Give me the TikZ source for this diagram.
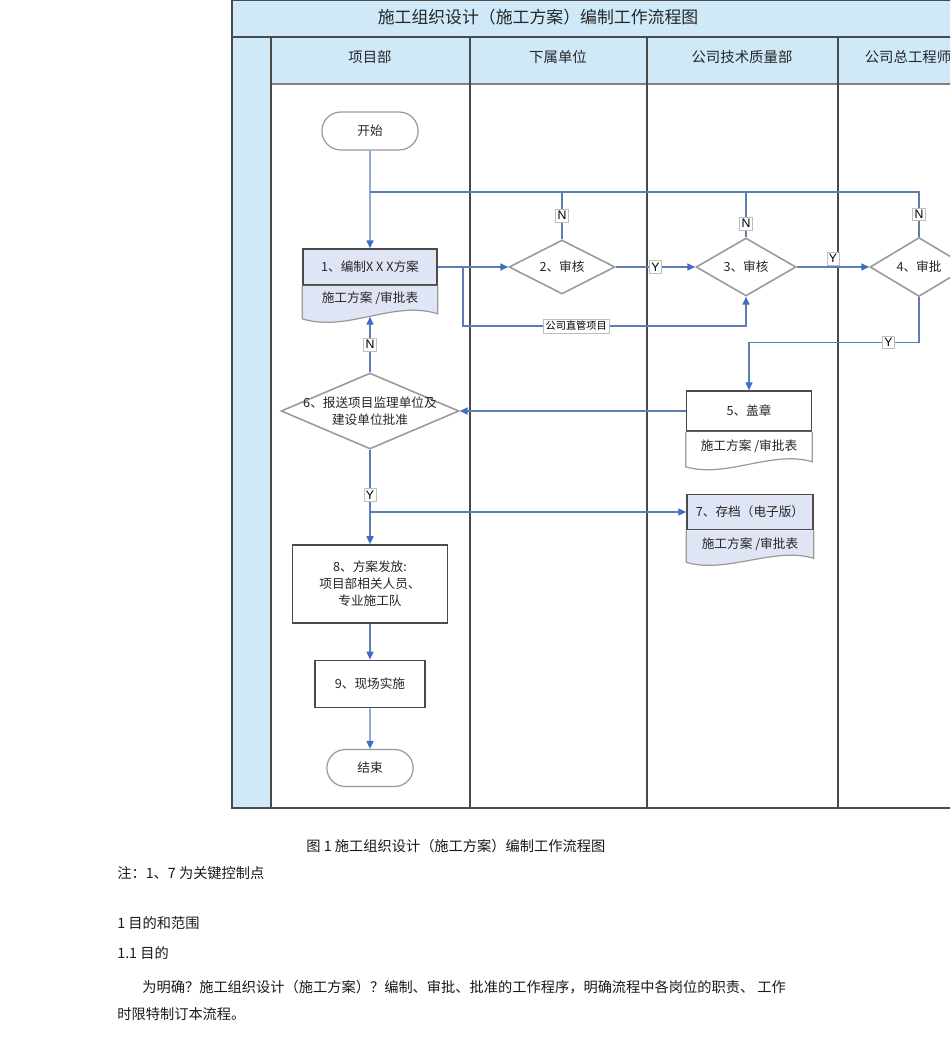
\documentclass[tikz,border=0pt]{standalone}
\usepackage{fontspec}
\setmainfont{Noto Sans CJK SC}
\newfontfamily\arialfont{Liberation Sans}
\usetikzlibrary{arrows.meta,positioning,calc,shapes.geometric,shapes.misc}
\definecolor{bandblue}{HTML}{CFE9F9}
\definecolor{docblue}{HTML}{DFE5F5}
\definecolor{flowblue}{HTML}{5B7DB1}
\definecolor{tipblue}{HTML}{3E6EC4}
\definecolor{lanegray}{HTML}{4A4A4A}
\definecolor{shapegray}{HTML}{9A9A9A}

\begin{document}
\begin{tikzpicture}[x=0.02cm, y=-0.02cm,
    txt/.style={font=\fontsize{7.2}{9.6}\selectfont, text=black!85},
    lane/.style={draw=lanegray, line width=0.75pt},
    link/.style={draw=flowblue, line width=0.75pt},
    flow/.style={link, -{Triangle[length=4.5pt, width=4pt, color=tipblue]}},
    terminal/.style={txt, rounded rectangle, draw=shapegray, line width=0.7pt, fill=white},
    decision/.style={txt, diamond, aspect=2, draw=shapegray, line width=0.9pt, fill=white, inner sep=0pt},
    doctop/.style={txt, rectangle, draw=lanegray, line width=0.9pt},
    docline/.style={draw=shapegray, line width=0.7pt},
    process/.style={txt, rectangle, draw=lanegray, line width=1pt, fill=white, align=center},
    yn/.style={font=\arialfont\fontsize{7}{8}\selectfont, fill=white, draw=black!25, line width=0.3pt, inner sep=1.2pt},
    tag/.style={yn, font=\fontsize{5.8}{7}\selectfont},
    note/.style={font=\fontsize{8.1}{10}\selectfont, text=black!90, inner sep=0pt},
  ]
    \useasboundingbox (0,0) rectangle (950,1050);
    \clip (0,0) rectangle (950,1050);

    % swimlane frame
    \fill[bandblue] (232,0) rectangle (960,84);
    \fill[bandblue] (232,84) rectangle (271,808);
    \draw[lane] (232,0) rectangle (960,808);
    \draw[lanegray, line width=1.3pt] (232,37) -- (960,37);
    \draw[lane, draw=gray] (271,84) -- (960,84);
    \foreach \x in {271,470,647,838}
      \draw[lane] (\x,37) -- (\x,808);

    \node[txt, font=\fontsize{9.6}{11}\selectfont] (title) at (538,17) {施工组织设计（施工方案）编制工作流程图};
    \node[txt, font=\fontsize{8.2}{10}\selectfont] (lane1) at (370,57) {项目部};
    \node[txt, font=\fontsize{8.2}{10}\selectfont] (lane2) at (558,57) {下属单位};
    \node[txt, font=\fontsize{8.2}{10}\selectfont] (lane3) at (742,57) {公司技术质量部};
    \node[txt, font=\fontsize{8.2}{10}\selectfont] (lane4) at (908,57) {公司总工程师};

    % steps
    \node[terminal, minimum width=2.16cm, minimum height=0.76cm] (start) at (370,131) {开始};

    \node[doctop, fill=docblue, minimum width=2.68cm, minimum height=0.72cm] (plan) at (370,267) {1、编制X X X方案};
    \draw[docline, fill=docblue] (plan.south west) -- ++(0,33)
      .. controls +(45,14) and +(-45,-14) .. ($(plan.south east)+(0,28)$) -- (plan.south east);
    \node[txt] (plantab) at (370,298) {施工方案 /审批表};

    \node[decision, minimum width=2.12cm, minimum height=1.08cm] (check2) at (562,267) {2、审核};
    \node[decision, minimum width=2.0cm, minimum height=1.16cm] (check3) at (746,267) {3、审核};
    \node[decision, minimum width=1.96cm, minimum height=1.18cm] (approve4) at (919,267) {4、审批};

    \node[doctop, fill=white, minimum width=2.5cm, minimum height=0.8cm] (seal5) at (749,411) {5、盖章};
    \draw[docline, fill=white] (seal5.south west) -- ++(0,35)
      .. controls +(40,12) and +(-40,-12) .. ($(seal5.south east)+(0,30)$) -- (seal5.south east);
    \node[txt] (sealtab) at (749,446) {施工方案 /审批表};

    \node[decision, minimum width=3.56cm, minimum height=1.52cm,
      label={[txt, align=center]center:6、报送项目监理单位及\\建设单位批准}] (submit6) at (370,411) {};

    \node[doctop, fill=docblue, minimum width=2.52cm, minimum height=0.7cm] (archive7) at (750,512) {7、存档（电子版）};
    \draw[docline, fill=docblue] (archive7.south west) -- ++(0,32)
      .. controls +(40,12) and +(-40,-12) .. ($(archive7.south east)+(0,28)$) -- (archive7.south east);
    \node[txt] (archivetab) at (750,544) {施工方案 /审批表};

    \node[process, minimum width=3.1cm, minimum height=1.56cm] (issue8) at (370,584) {8、方案发放:\\项目部相关人员、\\专业施工队};
    \node[process, minimum width=2.2cm, minimum height=0.94cm] (site9) at (370,684) {9、现场实施};
    \node[terminal, minimum width=1.96cm, minimum height=0.74cm] (finish) at (370,768) {结束};

    % connectors
    \coordinate (loop) at (370,192);
    \coordinate (direct) at (463,267);
    \coordinate (directlow) at (463,326);
    \coordinate (yes6) at (370,512);

    \draw[flow] (start) -- (plan);
    \draw[link] (check2.north) -- node[yn]{N} (check2.north |- loop) -- (loop);
    \draw[link] (check3.north) -- node[yn, pos=0.3]{N} (check3.north |- loop) -- (loop);
    \draw[link] (approve4.north) -- node[yn]{N} (approve4.north |- loop) -- (loop);
    \draw[flow] (plan.east) -- (check2.west);
    \draw[flow] (direct) -- (directlow) -- node[tag, pos=0.4]{公司直管项目} (directlow -| check3.south) -- (check3.south);
    \draw[flow] (check2.east) -- node[yn]{Y} (check3.west);
    \draw[flow] (check3.east) -- node[yn, above=1pt]{Y} (approve4.west);
    \draw[flow] (approve4.south) |- node[yn, pos=0.59]{Y} ($(seal5.north)+(0,-48)$) -- (seal5.north);
    \draw[flow] (seal5.west) -- (submit6.east);
    \draw[flow] (submit6.north) -- node[yn]{N} ($(plan.south)+(0,31)$);
    \draw[flow] (submit6.south) -- node[yn, pos=0.48]{Y} (issue8.north);
    \draw[flow] (yes6) -- (archive7.west);
    \draw[flow] (issue8) -- (site9);
    \draw[flow] (site9) -- (finish);

    % text below the chart
    \node[note, anchor=west] (caption) at (306,846) {图 1 施工组织设计（施工方案）编制工作流程图};
    \node[note, anchor=west] (remark) at (117,873) {注：1、7 为关键控制点};
    \node[note, anchor=west] (sec1) at (117,923) {1 目的和范围};
    \node[note, anchor=west] (sec11) at (117,953) {1.1 目的};
    \node[note, anchor=west] (para1) at (142,987) {为明确？施工组织设计（施工方案）？编制、审批、批准的工作程序，明确流程中各岗位的职责、 工作};
    \node[note, anchor=west] (para2) at (117,1014) {时限特制订本流程。};
\end{tikzpicture}
\end{document}
